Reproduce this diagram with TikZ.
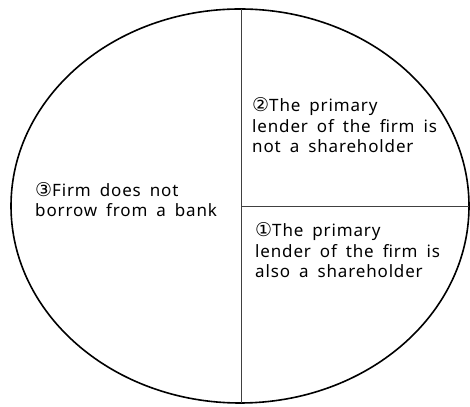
\documentclass[tikz,border=0pt]{standalone}
\usepackage{fontspec}
\setmainfont{Noto Sans}
\newfontfamily\casefont[LetterSpace=5,WordSpace=1.7]{Noto Sans}
\newfontfamily\circfont{DejaVu Sans}
\newcommand{\cnum}[1]{{\circfont\fontsize{19}{20.5}\selectfont #1}}
\usepackage{tikz}

\tikzset{
	case/.style={anchor=base west, align=left, inner sep=0pt, font=\casefont\fontsize{17}{20.5}\selectfont},
	split/.style={draw=black!75, line width=0.8pt}
}

\begin{document}
\begin{tikzpicture}[x=1pt,y=1pt]
		\useasboundingbox (0,0) rectangle (470,406);
		\draw[line width=1.6pt] (240,200) ellipse [x radius=229, y radius=197];
		\coordinate (Top) at (241,397);
		\coordinate (Bot) at (241,3);
		\coordinate (Mid) at (241,200);
		\coordinate (Rim) at (469,200);
		%
		\path[split] (Top) edge (Bot)
		(Mid) edge (Rim);
		%
		\node[case] (C2) at (252,253) {\cnum{②}The primary\\lender of the firm is\\not a shareholder};
		\node[case] (C1) at (255,128) {\cnum{①}The primary\\lender of the firm is\\also a shareholder};
		\node[case] (C3) at (35,189) {\cnum{③}Firm does not\\borrow from a bank};
		\end{tikzpicture}
\end{document}
